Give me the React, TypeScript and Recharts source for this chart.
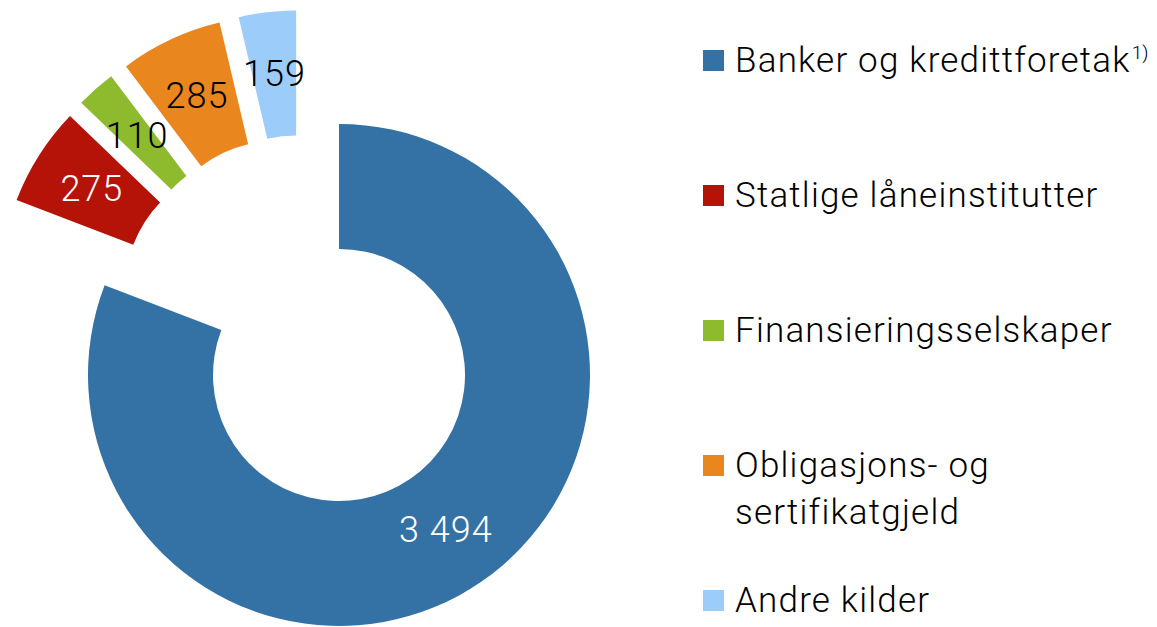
import React from 'react';
import { PieChart, Pie, Cell, Sector, Legend } from 'recharts';

const categories = [
  'Banker og kredittforetak',
  'Statlige låneinstitutter',
  'Finansieringsselskaper',
  'Obligasjons- og\nsertifikatgjeld',
  'Andre kilder',
];
const footnotes = ['1)', '', '', '', ''];
const values = [3494, 275, 110, 285, 159];
const colors = ['#3472A6', '#B51208', '#8DBB2D', '#E9871E', '#9CCDFA'];
const labelColors = ['#FFFFFF', '#FFFFFF', '#000000', '#000000', '#000000'];

const data = categories.map((name, i) => ({ name, value: values[i] }));

const START_ANGLE = 90;
const END_ANGLE = -270;
const total = values.reduce((a, b) => a + b, 0);
const groupStartAngle = START_ANGLE + ((END_ANGLE - START_ANGLE) * values[0]) / total;
const groupMidAngle = (groupStartAngle + END_ANGLE) / 2;
const GROUP_SHIFT = 63;
const SLICE_SHIFT = 62;
const RAD = Math.PI / 180;
const FONT = 'Roboto, "Liberation Sans", sans-serif';

function explode(isMain: boolean, midAngle: number) {
  if (isMain) return { dx: 0, dy: 0 };
  const dx = GROUP_SHIFT * Math.cos(groupMidAngle * RAD) + SLICE_SHIFT * Math.cos(midAngle * RAD);
  const dy = -(GROUP_SHIFT * Math.sin(groupMidAngle * RAD) + SLICE_SHIFT * Math.sin(midAngle * RAD));
  return { dx, dy };
}

function formatValue(v: number) {
  return String(v).replace(/\B(?=(\d{3})+(?!\d))/g, ' ');
}

const renderSector = (props: any) => {
  const name = props.name ?? props.payload?.name;
  const isMain = name === categories[0];
  const { dx, dy } = explode(isMain, props.midAngle);
  return (
    <Sector
      cx={props.cx + dx}
      cy={props.cy + dy}
      innerRadius={props.innerRadius}
      outerRadius={props.outerRadius}
      startAngle={props.startAngle}
      endAngle={props.endAngle}
      fill={props.fill}
      stroke="none"
    />
  );
};

const renderLabel = (props: any) => {
  const { cx, cy, midAngle, innerRadius, outerRadius, index, value } = props;
  const { dx, dy } = explode(index === 0, midAngle);
  const r = (innerRadius + outerRadius) / 2;
  const x = cx + dx + r * Math.cos(-midAngle * RAD);
  const y = cy + dy + r * Math.sin(-midAngle * RAD);
  return (
    <text
      x={x}
      y={y}
      fill={labelColors[index]}
      textAnchor="middle"
      dominantBaseline="central"
      fontSize={36}
      fontFamily={FONT}
      fontWeight={300}
      letterSpacing={1}
    >
      {formatValue(value)}
    </text>
  );
};

const renderLegend = () => (
  <div
    style={{
      position: 'relative',
      width: 450,
      height: 590,
      fontFamily: FONT,
      fontWeight: 300,
      fontSize: 35,
      letterSpacing: 1.2,
      lineHeight: '47px',
      color: '#000',
    }}
  >
    {categories.map((name, i) => (
      <div
        key={name}
        style={{ position: 'absolute', top: i * 135, left: 0, display: 'flex', alignItems: 'flex-start' }}
      >
        <div
          style={{ width: 21, height: 21, background: colors[i], marginTop: 12.5, marginRight: 11, flexShrink: 0 }}
        />
        <div style={{ whiteSpace: 'pre-line' }}>
          {name}
          {footnotes[i] ? (
            <span style={{ fontSize: 19, letterSpacing: 0, position: 'relative', top: -13, marginLeft: 1 }}>
              {footnotes[i]}
            </span>
          ) : null}
        </div>
      </div>
    ))}
  </div>
);

export default function App() {
  return (
    <PieChart width={1149} height={619} margin={{ top: 0, right: 0, bottom: 0, left: 0 }}>
      <Pie
        data={data}
        dataKey="value"
        nameKey="name"
        cx={331}
        cy={367}
        innerRadius={126}
        outerRadius={251}
        startAngle={START_ANGLE}
        endAngle={END_ANGLE}
        stroke="none"
        isAnimationActive={false}
        shape={renderSector}
        inactiveShape={renderSector}
        label={renderLabel}
        labelLine={false}
      >
        {data.map((d, i) => (
          <Cell key={d.name} fill={colors[i]} />
        ))}
      </Pie>
      <Legend
        content={renderLegend}
        layout="vertical"
        align="right"
        verticalAlign="top"
        wrapperStyle={{ position: 'absolute', left: 695, top: 29, width: 450, height: 590 }}
      />
    </PieChart>
  );
}
